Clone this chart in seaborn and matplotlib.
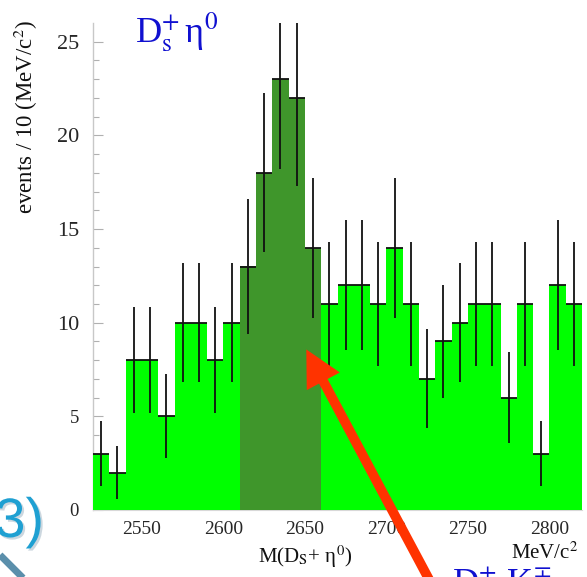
import numpy as np
import pandas as pd
import matplotlib
matplotlib.use("Agg")
import matplotlib.pyplot as plt
import matplotlib.patheffects as pe
from matplotlib.patches import FancyArrowPatch, ArrowStyle
from matplotlib.lines import Line2D
import seaborn as sns

# ---- data ----
bin_lo = 2520
bin_width = 10
events = [3, 2, 8, 8, 5, 10, 10, 8, 10, 13, 18, 23, 22, 14, 11,
          12, 12, 11, 14, 11, 7, 9, 10, 11, 11, 6, 11, 3, 12, 11]
signal_lo, signal_hi = 2610, 2660
y_ticks = [0, 5, 10, 15, 20, 25]
x_ticks = [2550, 2600, 2650, 2700, 2750, 2800]

edges = [float(bin_lo + bin_width * i) for i in range(len(events) + 1)]
centers = np.array(edges[:-1]) + bin_width / 2
region = np.where((centers > signal_lo) & (centers < signal_hi), "signal", "side")
df = pd.DataFrame({"mass": centers, "events": events, "region": region})

sns.set_theme(style="white")
plt.rcParams["font.family"] = ["Liberation Serif", "DejaVu Serif"]
plt.rcParams["mathtext.fontset"] = "stix"

fig = plt.figure(figsize=(5.87, 5.77), dpi=100)
ax = fig.add_axes([93 / 587, 1 - 510 / 577, (582 - 93) / 587, (510 - 23) / 577])

sns.histplot(data=df, x="mass", weights="events", hue="region", bins=edges,
             palette={"side": "#00ff00", "signal": "#3f962b"}, alpha=1,
             element="step", fill=True, linewidth=0, legend=False,
             multiple="layer", ax=ax, zorder=3)

ax.errorbar(df["mass"], df["events"], yerr=np.sqrt(df["events"]),
            xerr=bin_width / 2, fmt="none", ecolor="#111111", elinewidth=1.3,
            capsize=0, zorder=4)

ax.set_xlim(edges[0], edges[-1])
ax.set_ylim(0, 26)
ax.set_xlabel("")
ax.set_ylabel("")
for s in ["top", "right"]:
    ax.spines[s].set_visible(False)
ax.spines["left"].set_color("#c8c8c8")
ax.spines["bottom"].set_color("#d8d8d8")
ax.spines["left"].set_linewidth(1.0)
ax.spines["bottom"].set_linewidth(0.8)

ax.set_yticks(y_ticks)
ax.set_yticklabels([str(v) for v in y_ticks])
ax.set_yticks(np.arange(0, 26, 1), minor=True)
ax.set_xticks(x_ticks)
ax.set_xticklabels([str(v) for v in x_ticks], fontsize=14)
ax.tick_params(axis="y", which="major", direction="in", length=7, width=0.8,
               color="#b0b0b0", pad=10, left=True)
ax.tick_params(axis="y", which="minor", direction="in", length=4, width=0.8,
               color="#b0b0b0", left=True)
ax.tick_params(axis="x", which="major", direction="in", length=6, width=0.8,
               color="#b0b0b0", pad=8, bottom=True)
for lab in ax.get_yticklabels():
    lab.set_fontsize(16 if len(lab.get_text()) > 1 else 13.5)

# axis titles
fig.text(26 / 587, 1 - 117 / 577, "events / 10 (MeV/c$^2$)", rotation=90,
         ha="center", va="center", fontsize=16.5, color="#111111")
fig.text(305 / 587, 1 - 557 / 577, "M(D$_{\\rm S}$+ η$^{0}$)",
         ha="center", va="center", fontsize=15, color="#111111")
fig.text(578 / 587, 1 - 553 / 577, "MeV/c$^2$", ha="right", va="center",
         fontsize=15, color="#111111")

# channel label
fig.text(135 / 587, 1 - 42 / 577, "D$_{\\mathrm{s}}^{+}\\,$η$^{0}$",
         ha="left", va="baseline", fontsize=26, color="#1010d0")
fig.text(452 / 587, 1 - 594 / 577, "D$^{\\pm}$ K$^{\\mp}$",
         ha="left", va="baseline", fontsize=26, color="#1010d0")

# "3)" fragment
fig.text(44 / 587, 1 - 537 / 577, "3)", ha="right", va="baseline",
         fontsize=40, color="#1fa0d2", family="Liberation Sans",
         path_effects=[pe.withSimplePatchShadow(offset=(1.5, -1.5),
                                                shadow_rgbFace="#9ab0c0",
                                                alpha=0.5)])
fig.add_artist(Line2D([0.0, 0.0511], [1 - 555 / 577, 1 - 585 / 577],
                      transform=fig.transFigure, color="#5b8fab",
                      linewidth=5, solid_capstyle="butt"))

# red arrow
arrow = FancyArrowPatch((432 / 587, 1 - 585 / 577), (305 / 587, 1 - 347 / 577),
                        transform=fig.transFigure,
                        arrowstyle=ArrowStyle.Simple(head_length=2.6,
                                                     head_width=2.7,
                                                     tail_width=0.7),
                        mutation_scale=10, color="#ff3300", linewidth=0,
                        zorder=10)
fig.add_artist(arrow)

fig.savefig("out.png", dpi=100)
